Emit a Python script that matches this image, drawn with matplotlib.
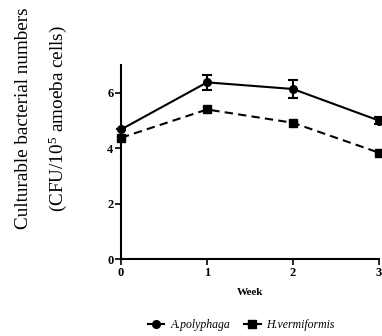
import matplotlib
matplotlib.use("Agg")
import matplotlib.pyplot as plt
from matplotlib.lines import Line2D

weeks = [0, 1, 2, 3]
week_labels = ["0", "1", "2", "3"]
a_poly = [4.68, 6.38, 6.14, 5.0]
a_poly_err = [0.0, 0.27, 0.31, 0.12]
h_verm = [4.38, 5.40, 4.92, 3.84]
yticks = [0, 2, 4, 6]

plt.rcParams['font.family'] = ['Liberation Serif', 'DejaVu Serif']
plt.rcParams['mathtext.fontset'] = 'custom'
plt.rcParams['mathtext.rm'] = 'Liberation Serif'
plt.rcParams['mathtext.it'] = 'Liberation Serif:italic'
plt.rcParams['mathtext.bf'] = 'Liberation Serif:bold'

fig = plt.figure(figsize=(3.82, 3.36), dpi=100)
ax = fig.add_axes([0.317, 0.229, 0.675, 0.577])

eb = ax.errorbar(weeks, a_poly, yerr=a_poly_err, color='black', lw=1.5, ls='-',
                 marker='o', ms=5.5, capsize=3.8, capthick=1.5, elinewidth=1.5,
                 clip_on=False, zorder=3)
for art in eb.lines[1] + eb.lines[2]:
    art.set_clip_on(False)
ln_h, = ax.plot(weeks, h_verm, color='black', lw=1.5, ls=(0, (4, 2.5)),
                marker='s', ms=6, clip_on=False, zorder=3)

ax.set_xlim(0, 3)
ax.set_ylim(0, 7)
ax.set_xticks(weeks)
ax.set_xticklabels(week_labels)
ax.set_yticks(yticks)
for s in ['top', 'right']:
    ax.spines[s].set_visible(False)
for s in ['left', 'bottom']:
    ax.spines[s].set_linewidth(1.5)
ax.tick_params(width=1.2, length=4, labelsize=9, pad=1.5)
for lab in ax.get_xticklabels() + ax.get_yticklabels():
    lab.set_fontweight('bold')

ax.set_xlabel('Week', fontsize=8, fontweight='bold', labelpad=7)
fig.text(0.062, 0.648, 'Culturable bacterial numbers', rotation=90, fontsize=13.8,
         ha='center', va='center')
fig.text(0.152, 0.648, r'(CFU/10$^{\mathrm{5}}$ amoeba cells)', rotation=90, fontsize=13.8,
         ha='center', va='center')

h1 = Line2D([], [], color='black', lw=1.5, marker='o', ms=5.5)
h2 = Line2D([], [], color='black', lw=1.5, marker='s', ms=6)
fig.legend([h1, h2], ['A.polyphaga', 'H.vermiformis'], loc='center',
           bbox_to_anchor=(0.632, 0.033), ncol=2, frameon=False,
           prop={'style': 'italic', 'size': 8.5}, handlelength=1.4,
           columnspacing=1.2, handletextpad=0.5)

fig.savefig('out.png', dpi=100)
